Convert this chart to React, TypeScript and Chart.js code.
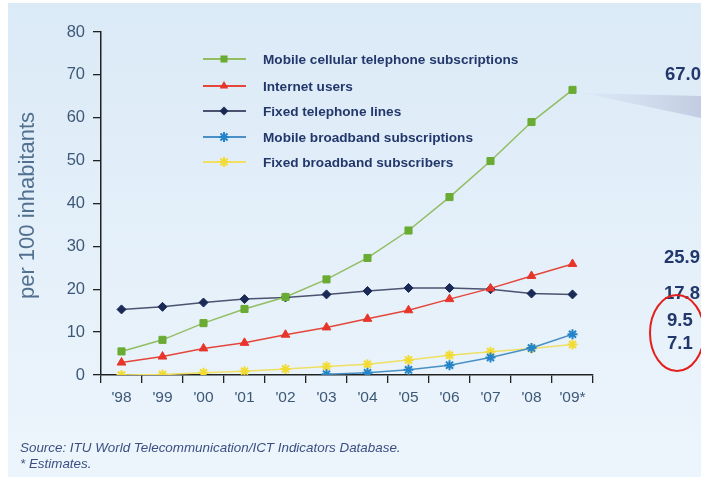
import React, { useEffect, useRef } from 'react';
import { Chart, registerables } from 'chart.js';

Chart.register(...registerables);

const years = ["'98", "'99", "'00", "'01", "'02", "'03", "'04", "'05", "'06", "'07", "'08", "'09*"];
const mobileCellular = [5.5, 8.2, 12.1, 15.4, 18.2, 22.3, 27.3, 33.7, 41.5, 49.9, 59.0, 66.5];
const internetUsers = [2.9, 4.3, 6.2, 7.5, 9.4, 11.1, 13.1, 15.1, 17.7, 20.2, 23.1, 25.9];
const fixedTelephone = [15.3, 15.9, 16.9, 17.7, 18.1, 18.8, 19.6, 20.3, 20.3, 20.0, 19.0, 18.8];
const mobileBroadband = [null, null, null, null, null, 0.2, 0.5, 1.2, 2.3, 4.1, 6.3, 9.5];
const fixedBroadband = [0.0, 0.1, 0.5, 0.9, 1.4, 2.0, 2.5, 3.5, 4.6, 5.4, 6.2, 7.1];
const seriesNames = [
  'Mobile cellular telephone subscriptions',
  'Internet users',
  'Fixed telephone lines',
  'Mobile broadband subscriptions',
  'Fixed broadband subscribers',
];
const endLabels = ['67.0', '25.9', '17.8', '9.5', '7.1'];
const yTitle = 'per 100 inhabitants';
const sourceLines = ['Source: ITU World Telecommunication/ICT Indicators Database.', '* Estimates.'];

const lineColors = ['#93bd62', '#e4463c', '#4b5370', '#4a90c4', '#efdf63'];
const markerColors = ['#6aab34', '#e8352b', '#1b2957', '#2584c8', '#f2dc33'];
const markerStyles = ['rect', 'triangle', 'rectRot', 'star', 'star'];
const markerRadius = [5, 5, 4.5, 5, 5];
const NAVY = '#22376b';

function drawMarker(ctx: CanvasRenderingContext2D, style: string, x: number, y: number, r: number, color: string) {
  ctx.save();
  ctx.fillStyle = color;
  ctx.strokeStyle = color;
  ctx.lineWidth = 2;
  ctx.beginPath();
  if (style === 'rect') {
    const s = r * Math.SQRT1_2;
    ctx.rect(x - s, y - s, 2 * s, 2 * s);
    ctx.fill();
  } else if (style === 'triangle') {
    const s = r * 0.866;
    ctx.moveTo(x, y - r);
    ctx.lineTo(x + s, y + r * 0.5);
    ctx.lineTo(x - s, y + r * 0.5);
    ctx.closePath();
    ctx.fill();
  } else if (style === 'rectRot') {
    ctx.moveTo(x, y - r);
    ctx.lineTo(x + r, y);
    ctx.lineTo(x, y + r);
    ctx.lineTo(x - r, y);
    ctx.closePath();
    ctx.fill();
  } else {
    for (let i = 0; i < 4; i++) {
      const a = (i * Math.PI) / 4;
      ctx.moveTo(x - Math.cos(a) * r, y - Math.sin(a) * r);
      ctx.lineTo(x + Math.cos(a) * r, y + Math.sin(a) * r);
    }
    ctx.stroke();
  }
  ctx.restore();
}

const decorPlugin = {
  id: 'decor',
  beforeDraw(chart: any) {
    const ctx = chart.ctx as CanvasRenderingContext2D;
    ctx.save();
    ctx.fillStyle = '#ffffff';
    ctx.fillRect(0, 0, chart.width, chart.height);
    const g = ctx.createLinearGradient(0, 3, 0, 477);
    g.addColorStop(0, '#dbeaf7');
    g.addColorStop(1, '#edf5fc');
    ctx.fillStyle = g;
    ctx.fillRect(8, 3, chart.width - 8, 474);
    ctx.restore();
  },
  afterDraw(chart: any) {
    const ctx = chart.ctx as CanvasRenderingContext2D;
    const yScale = chart.scales.y;
    const xScale = chart.scales.x;
    ctx.save();

    // wedge callout
    const lastX = xScale.getPixelForValue(years.length - 1);
    const lastY = yScale.getPixelForValue(mobileCellular[mobileCellular.length - 1]);
    const wg = ctx.createLinearGradient(lastX + 8, 0, chart.width, 0);
    wg.addColorStop(0, 'rgba(200,207,228,0.1)');
    wg.addColorStop(1, 'rgba(190,199,222,0.85)');
    ctx.fillStyle = wg;
    ctx.beginPath();
    ctx.moveTo(lastX + 10, lastY + 3);
    ctx.lineTo(chart.width, lastY + 6);
    ctx.lineTo(chart.width, lastY + 28);
    ctx.closePath();
    ctx.fill();

    // y title
    ctx.fillStyle = '#52708f';
    ctx.font = '22px "Liberation Sans", Arial, sans-serif';
    ctx.textAlign = 'center';
    ctx.textBaseline = 'middle';
    ctx.translate(28, (yScale.top + yScale.bottom) / 2 + 2);
    ctx.rotate(-Math.PI / 2);
    ctx.fillText(yTitle, 0, 0);
    ctx.setTransform(1, 0, 0, 1, 0, 0);

    // legend
    const legendRows = [59, 86, 111, 137, 162];
    ctx.font = 'bold 13.6px "Liberation Sans", Arial, sans-serif';
    ctx.textAlign = 'left';
    ctx.textBaseline = 'middle';
    seriesNames.forEach((name, i) => {
      const ly = legendRows[i];
      ctx.strokeStyle = lineColors[i];
      ctx.lineWidth = 2;
      ctx.beginPath();
      ctx.moveTo(203, ly);
      ctx.lineTo(246, ly);
      ctx.stroke();
      drawMarker(ctx, markerStyles[i], 224, ly, markerRadius[i], markerColors[i]);
      ctx.fillStyle = NAVY;
      ctx.fillText(name, 263, ly + 1);
    });

    // end labels
    const labelYs = [75, 258, 294, 321, 344];
    const labelXs = [665, 664, 664, 667, 667];
    ctx.font = 'bold 18.5px "Liberation Sans", Arial, sans-serif';
    ctx.fillStyle = NAVY;
    endLabels.forEach((t, i) => {
      ctx.fillText(t, labelXs[i], labelYs[i]);
    });

    // red circle
    ctx.strokeStyle = '#e3201c';
    ctx.lineWidth = 2;
    ctx.beginPath();
    ctx.ellipse(677, 333, 27, 38, 0, 0, Math.PI * 2);
    ctx.stroke();

    // source text
    ctx.font = 'italic 13.4px "Liberation Sans", Arial, sans-serif';
    ctx.fillStyle = '#3b4f82';
    ctx.fillText(sourceLines[0], 20, 448);
    ctx.fillText(sourceLines[1], 20, 464);

    ctx.restore();
  },
};

export default function App() {
  const ref = useRef<HTMLCanvasElement | null>(null);
  useEffect(() => {
    if (!ref.current) return;
    const seriesData = [mobileCellular, internetUsers, fixedTelephone, mobileBroadband, fixedBroadband];
    const chart = new Chart(ref.current, {
      type: 'line',
      data: {
        labels: years,
        datasets: seriesData.map((d, i) => ({
          label: seriesNames[i],
          data: d,
          borderColor: lineColors[i],
          backgroundColor: markerColors[i],
          pointBackgroundColor: markerColors[i],
          pointBorderColor: markerColors[i],
          pointBorderWidth: markerStyles[i] === 'star' ? 2 : 1,
          pointStyle: markerStyles[i] as any,
          pointRadius: markerRadius[i],
          borderWidth: 1.5,
          tension: 0,
          fill: false,
        })),
      },
      options: {
        responsive: false,
        animation: false,
        devicePixelRatio: 1,
        layout: { padding: { left: 0, right: 108, top: 32, bottom: 0 } },
        plugins: { legend: { display: false }, tooltip: { enabled: false } },
        scales: {
          x: {
            type: 'category',
            offset: true,
            grid: { offset: true, drawOnChartArea: false, drawTicks: true, tickLength: 8, color: '#222', lineWidth: 1.3 },
            border: { display: true, color: '#222', width: 1.5 },
            ticks: { color: '#3e5878', font: { family: '"Liberation Sans", Arial, sans-serif', size: 15.5 }, padding: 5, maxRotation: 0, autoSkip: false },
            afterFit: (s: any) => { s.height = 104; },
          },
          y: {
            min: 0,
            max: 80,
            ticks: { stepSize: 10, color: '#3e5878', font: { family: '"Liberation Sans", Arial, sans-serif', size: 16.5 }, padding: 8 },
            grid: { drawOnChartArea: false, drawTicks: true, tickLength: 8, color: '#222', lineWidth: 1.3 },
            border: { display: true, color: '#222', width: 1.5 },
            afterFit: (s: any) => { s.width = 101; },
          },
        },
      },
      plugins: [decorPlugin],
    });
    return () => chart.destroy();
  }, []);
  return (
    <div style={{ position: 'absolute', left: 0, top: 0, width: 701, height: 479 }}>
      <canvas ref={ref} width={701} height={479} style={{ display: 'block', width: 701, height: 479 }} />
    </div>
  );
}
